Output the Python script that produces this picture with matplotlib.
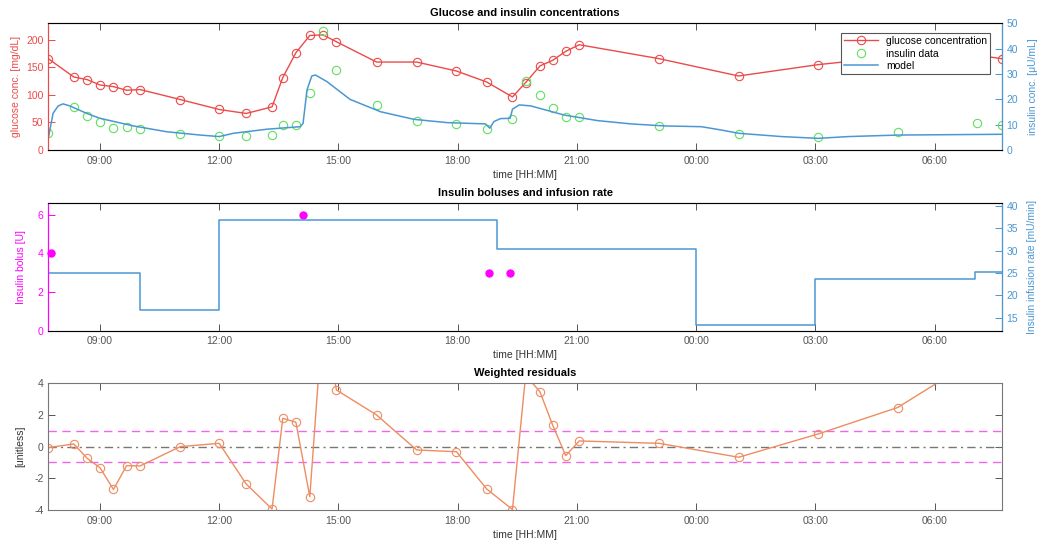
import matplotlib
matplotlib.use("Agg")
import matplotlib.pyplot as plt

plt.rcParams['font.family'] = ['Liberation Sans', 'DejaVu Sans']
plt.rcParams['axes.unicode_minus'] = False

# sample times in hours from midnight of day 1 (values > 24 are next day)
sample_t = [7.70, 8.34, 8.68, 9.00, 9.34, 9.67, 10.01, 11.02, 12.00, 12.68,
            13.33, 13.60, 13.93, 14.28, 14.61, 14.95, 15.96, 16.97, 17.97, 18.73,
            19.38, 19.71, 20.07, 20.39, 20.72, 21.06, 23.07, 25.07, 27.07, 29.07,
            31.08, 31.69]
glucose = [165.7, 132.5, 127.7, 118.0, 115.0, 108.4, 109.7, 91.6, 73.5, 66.3,
           78.3, 131.4, 176.5, 207.8, 209.0, 196.4, 159.6, 159.6, 143.3, 123.4,
           96.3, 122.3, 152.4, 162.7, 179.0, 191.0, 165.7, 134.3, 154.9, 170.0,
           172.0, 165.7]
insulin = [6.6, 17.1, 13.5, 11.2, 8.8, 9.0, 8.3, 6.3, 5.5, 5.5,
           5.9, 9.9, 9.9, 22.4, 46.8, 31.7, 17.8, 11.6, 10.3, 8.3,
           12.2, 27.4, 21.7, 16.4, 13.1, 13.1, 9.6, 6.3, 5.0, 7.2,
           10.8, 9.9]
residuals = [-0.06, 0.17, -0.74, -1.33, -2.70, -1.20, -1.22, 0.0, 0.21, -2.36,
             -3.94, 1.79, 1.54, -3.16, 8.3, 3.58, 2.0, -0.21, -0.32, -2.67,
             -3.97, 4.5, 3.47, 1.37, -0.57, 0.36, 0.21, -0.67, 0.80, 2.47,
             5.6, 5.0]

# model insulin curve
model_t = [7.70, 7.82, 7.95, 8.07, 8.24, 8.66, 9.00, 9.84, 10.68, 11.52,
           12.00, 12.36, 13.20, 14.04, 14.11, 14.21, 14.33, 14.42, 14.71, 15.00,
           15.29, 16.06, 16.90, 17.74, 18.70, 18.81, 18.91, 19.08, 19.32, 19.38,
           19.55, 19.84, 20.68, 21.52, 22.36, 23.20, 24.13, 24.63, 25.07, 26.15,
           27.07, 27.83, 29.10, 31.69]
model_ins = [4.6, 14.5, 17.4, 18.2, 17.4, 14.5, 12.5, 9.5, 7.2, 5.9,
             5.3, 6.6, 8.2, 9.2, 10.5, 23.7, 29.2, 29.6, 27.0, 23.5,
             20.0, 15.1, 12.1, 10.8, 10.3, 8.6, 11.2, 12.4, 12.5, 16.1,
             17.8, 17.4, 13.8, 11.6, 10.3, 9.5, 9.2, 7.9, 6.6, 5.3,
             4.6, 5.3, 5.9, 6.2]

bolus_t = [7.76, 14.10, 18.80, 19.31]
bolus_u = [4, 6, 3, 3]

rate_t = [7.70, 10.0, 12.0, 19.0, 24.0, 27.0, 31.03, 31.69]
rate = [25.0, 16.8, 36.9, 30.3, 13.4, 23.6, 25.1, 25.1]

tick_pos = [9, 12, 15, 18, 21, 24, 27, 30]
tick_lbl = ['09:00', '12:00', '15:00', '18:00', '21:00', '00:00', '03:00', '06:00']

red = '#ec4a4a'
green = '#5ee05e'
blue = '#4b97d3'
magenta = '#ff00ff'
orange = '#ee8c62'
grey = '#555555'
fs = 7.5

W, H = 1043, 548
fig = plt.figure(figsize=(W / 100, H / 100), dpi=100)
left = 48.3 / W
width = (1001.7 - 48.3) / W


def make_axes(top, bottom):
    return fig.add_axes([left, 1 - bottom / H, width, (bottom - top) / H])


def style_x(ax, title):
    ax.set_xlim(sample_t[0], sample_t[-1])
    ax.set_xticks(tick_pos)
    ax.set_xticklabels(tick_lbl)
    ax.tick_params(axis='x', direction='in', top=True, length=5, width=0.7,
                   labelsize=fs, colors=grey, pad=4)
    for s in ['top', 'bottom']:
        ax.spines[s].set_color('#777777')
        ax.spines[s].set_linewidth(0.8)
    ax.set_xlabel('time [HH:MM]', fontsize=fs, color='#333333', labelpad=3)
    ax.set_title(title, fontsize=8, fontweight='bold', pad=5)


def color_y(ax, side, col):
    ax.spines[side].set_color(col)
    ax.spines[side].set_linewidth(0.8)
    ax.tick_params(axis='y', direction='in', length=5, width=0.7,
                   labelsize=fs, colors=col)


# ---- panel 1: glucose and insulin ----
ax1 = make_axes(23.3, 150.0)
ax1.plot(sample_t, glucose, '-o', color=red, lw=1.0, ms=6, mfc='none', mew=0.8,
         label='glucose concentration')
ax1.set_ylim(0, 1.1 * max(glucose))
ax1.set_yticks([0, 50, 100, 150, 200])
color_y(ax1, 'left', red)
ax1.set_ylabel('glucose conc. [mg/dL]', fontsize=fs, color=red, labelpad=4)
style_x(ax1, 'Glucose and insulin concentrations')

ax1r = ax1.twinx()
ax1r.plot(sample_t, insulin, 'o', color=green, ms=6, mfc='none', mew=0.8,
          label='insulin data')
ax1r.plot(model_t, model_ins, '-', color=blue, lw=1.1, label='model')
ax1r.set_ylim(0, 50)
ax1r.set_yticks([0, 10, 20, 30, 40, 50])
ax1r.spines['left'].set_color(red)
color_y(ax1r, 'right', blue)
ax1r.set_ylabel('insulin conc. [μU/mL]', fontsize=fs, color=blue, labelpad=7)
h1, l1 = ax1.get_legend_handles_labels()
h2, l2 = ax1r.get_legend_handles_labels()
leg = ax1r.legend(h1 + h2, l1 + l2, loc='upper right', bbox_to_anchor=(0.988, 0.925),
                  fontsize=7.5, frameon=True, fancybox=False, framealpha=1,
                  edgecolor='#555555', handlelength=3.2, borderpad=0.3,
                  labelspacing=0.25, borderaxespad=0)
leg.get_frame().set_linewidth(0.8)

# ---- panel 2: boluses and infusion rate ----
ax2 = make_axes(203.3, 330.7)
ax2.plot(bolus_t, bolus_u, 'o', color=magenta, ms=5, clip_on=False)
ax2.set_ylim(0, 1.1 * max(bolus_u))
ax2.set_yticks([0, 2, 4, 6])
color_y(ax2, 'left', magenta)
ax2.set_ylabel('Insulin bolus [U]', fontsize=fs, color=magenta, labelpad=8)
style_x(ax2, 'Insulin boluses and infusion rate')

ax2r = ax2.twinx()
ax2r.step(rate_t, rate, where='post', color=blue, lw=1.1)
ax2r.set_ylim(0.9 * min(rate), 1.1 * max(rate))
ax2r.set_yticks([15, 20, 25, 30, 35, 40])
ax2r.spines['left'].set_color(magenta)
color_y(ax2r, 'right', blue)
ax2r.set_ylabel('Insulin infusion rate [mU/min]', fontsize=fs, color=blue, labelpad=6)

# ---- panel 3: weighted residuals ----
ax3 = make_axes(383.3, 510.0)
ax3.axhline(1, color='#ee66ee', ls=(0, (6, 4)), lw=1.0)
ax3.axhline(-1, color='#ee66ee', ls=(0, (6, 4)), lw=1.0)
ax3.axhline(0, color='#777777', ls=(0, (6, 3, 1.5, 3)), lw=1.0)
ax3.plot(sample_t, residuals, '-o', color=orange, lw=1.0, ms=6, mfc='none', mew=0.8)
ax3.set_ylim(-4, 4)
ax3.set_yticks([-4, -2, 0, 2, 4])
ax3.tick_params(axis='y', direction='in', right=True, length=5, width=0.7,
                labelsize=fs, colors=grey)
for s in ['left', 'right']:
    ax3.spines[s].set_color('#777777')
    ax3.spines[s].set_linewidth(0.8)
ax3.set_ylabel('[unitless]', fontsize=fs, color='#333333', labelpad=6)
style_x(ax3, 'Weighted residuals')

fig.savefig('out.png', dpi=100)
